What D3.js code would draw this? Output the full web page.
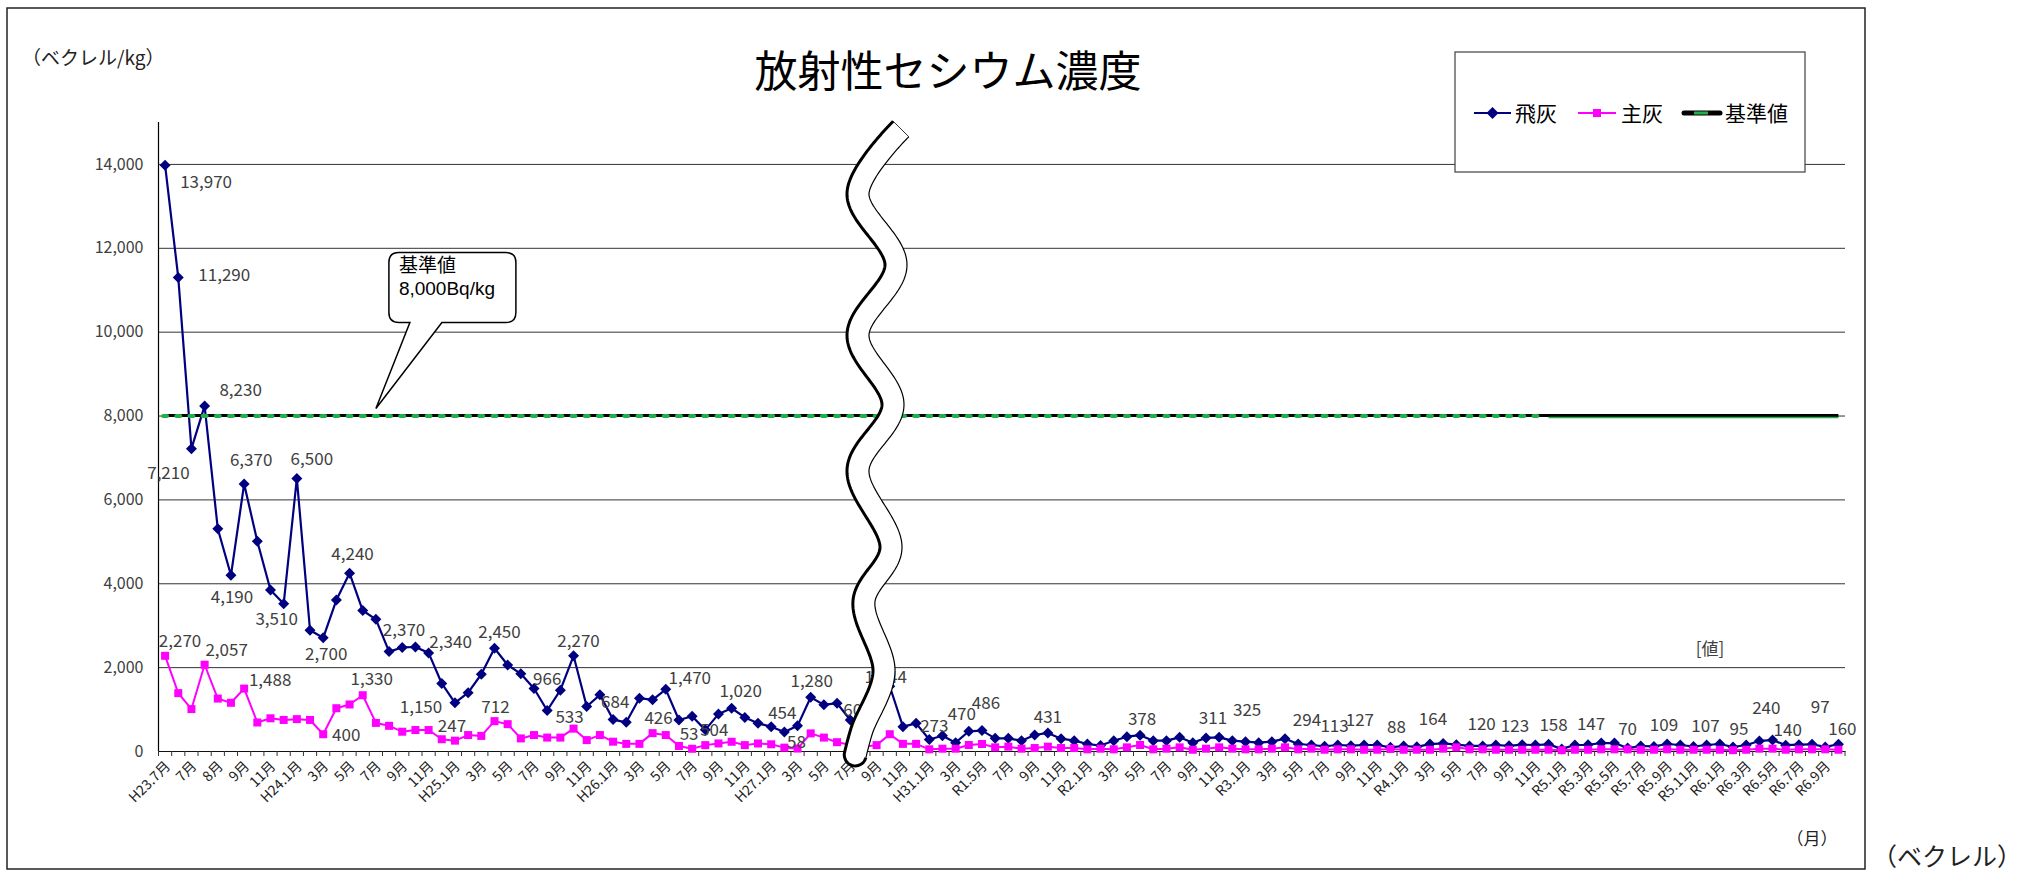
<!DOCTYPE html>
<html><head><meta charset="utf-8">
<script src="https://cdn.jsdelivr.net/npm/d3@7"></script>
<style>
html,body{margin:0;padding:0;background:#fff;}
svg{display:block;}
</style></head><body>
<svg id="chart" width="2024" height="873"></svg>
<script>
// ---------------- data ----------------
const categories = [
 "H23.7月","7月","7月","7月","8月","8月","9月","10月","11月","12月",
 "H24.1月","2月","3月","4月","5月","6月","7月","8月","9月","10月","11月","12月",
 "H25.1月","2月","3月","4月","5月","6月","7月","8月","9月","10月","11月","12月",
 "H26.1月","2月","3月","4月","5月","6月","7月","8月","9月","10月","11月","12月",
 "H27.1月","2月","3月","4月","5月","6月","7月","8月",
 "9月","10月","11月","12月",
 "H31.1月","2月","3月","4月","R1.5月","6月","7月","8月","9月","10月","11月","12月",
 "R2.1月","2月","3月","4月","5月","6月","7月","8月","9月","10月","11月","12月",
 "R3.1月","2月","3月","4月","5月","6月","7月","8月","9月","10月","11月","12月",
 "R4.1月","2月","3月","4月","5月","6月","7月","8月","9月","10月","11月","12月",
 "R5.1月","R5.2月","R5.3月","R5.4月","R5.5月","R5.6月","R5.7月","R5.8月","R5.9月","R5.10月","R5.11月","R5.12月",
 "R6.1月","R6.2月","R6.3月","R6.4月","R6.5月","R6.6月","R6.7月","R6.8月","R6.9月","R6.10月"
];
// 飛灰 (fly ash)
const flyAsh = [
 13970,11290,7210,8230,5300,4190,6370,5000,3840,3510,
 6500,2880,2700,3600,4240,3350,3140,2370,2470,2480,
 2340,1610,1150,1390,1830,2450,2050,1840,1490,966,
 1450,2270,1060,1340,750,684,1260,1220,1470,740,
 830,504,880,1020,800,660,580,454,600,1280,
 1100,1140,740,605,900,1544,580,660,273,365,
 198,470,486,302,302,246,381,431,294,246,
 167,130,246,341,378,246,246,326,199,311,
 325,246,222,199,222,294,167,143,113,143,
 127,143,143,88,119,100,164,180,150,120,
 120,143,123,150,143,158,50,143,147,190,
 190,70,119,109,167,143,107,143,167,95,
 143,240,260,140,150,160,97,160
];
// 主灰 (bottom ash)
const mainAsh = [
 2270,1380,1000,2057,1250,1150,1488,680,780,740,
 760,740,400,1020,1110,1330,670,600,460,500,
 500,280,247,380,360,712,640,300,380,320,
 320,533,260,380,222,170,170,426,380,120,
 53,140,180,220,140,180,160,80,58,420,
 320,210,150,100,140,400,170,170,40,55,
 55,143,167,87,103,55,71,103,71,71,
 40,55,40,87,143,40,55,87,30,55,
 87,55,40,40,55,87,40,55,30,40,
 40,30,30,48,30,30,30,55,87,40,
 40,30,30,30,30,30,20,30,30,40,
 40,40,30,30,40,30,30,30,30,20,
 30,55,55,30,40,40,40,30
];
const standardValue = 8000;           // 基準値
const yTicks = [0,2000,4000,6000,8000,10000,12000,14000];
const seriesNames = ["飛灰","主灰","基準値"];
// labelled points: [index, dx, dy]  (placement of the data labels)
const flyLabelLayout = [
 [0,41,17],[1,46,-3],[2,-23,24],[3,36,-16],[5,1,22],[6,7,-24],[9,-7,15],[10,15,-19],
 [12,3,16],[14,3,-19],[17,15,-22],[20,22,-11],[22,-34,4],[25,5,-16],[29,0,-31],[31,5,-15],
 [35,-11,-20],[38,24,-11],[41,9,0],[43,9,-17],[47,-2,-19],[49,1,-16],[53,-6,-16],[55,-4,-9],
 [58,5,-14],[61,-7,-17],[62,4,-28],[67,0,-16],[74,2,-16],[79,7,-20],[80,28,-27],[85,22,-19],
 [88,10,-20],[90,9,-26],[93,6,-20],[96,3,-25],[100,-1,-22],[102,6,-20],[105,5,-19],[108,3,-21],
 [111,0,-19],[113,10,-21],[116,12,-20],[119,6,-18],[121,7,-33],[123,2,-15],[126,-5,-40],[127,4,-15]
];
const mainLabelLayout = [
 [0,15,-15],[3,22,-15],[6,26,-9],[12,23,1],[15,9,-16],[22,-3,-15],[25,1,-14],[31,-4,-12],
 [37,6,-15],[40,-3,-15],[48,-1,-7]
];

// ---------------- layout ----------------
const FONT = '"Noto Sans CJK JP","Noto Sans",sans-serif';
const svg = d3.select("#chart").attr("font-family", FONT);
const plot = {left:158.5, right:1845, top:122, bottom:751};
const x = d3.scaleBand().domain(d3.range(categories.length)).range([plot.left, plot.right]);
const cx = i => x(i) + x.bandwidth()/2;
const y = d3.scaleLinear().domain([0,15000]).range([plot.bottom, plot.top]);
const fmt = d3.format(",");

svg.append("rect").attr("width",2024).attr("height",873).attr("fill","#fff");
// outer frame
svg.append("rect").attr("x",7).attr("y",8).attr("width",1858).attr("height",861)
  .attr("fill","none").attr("stroke","#222").attr("stroke-width",1.5);

// gridlines + y labels
const gy = svg.append("g").attr("transform",`translate(${plot.left},0)`)
  .call(d3.axisLeft(y).tickValues(yTicks).tickFormat(fmt)
        .tickSize(-(plot.right-plot.left)).tickPadding(15));
gy.attr("font-family",FONT).attr("font-size",16);
gy.select(".domain").remove();
gy.selectAll(".tick line").attr("stroke","#333").attr("stroke-width",1);
gy.selectAll(".tick").filter(d=>d===0).select("line").remove();
gy.selectAll(".tick text").attr("fill","#404040");

// y axis line
svg.append("line").attr("x1",plot.left).attr("x2",plot.left).attr("y1",plot.top).attr("y2",plot.bottom)
  .attr("stroke","#000").attr("stroke-width",1.2);

// x axis
const gx = svg.append("g").attr("transform",`translate(0,${plot.bottom})`)
  .call(d3.axisBottom(x).tickSize(0).tickSizeOuter(0).tickFormat(i => i%2===0 ? categories[i] : ""));
gx.attr("font-family",FONT).attr("font-size",14);
gx.select(".domain").attr("stroke","#111").attr("stroke-width",1.2);
gx.selectAll(".tick text").attr("x",0).attr("y",0).attr("dy",0)
  .attr("text-anchor","end").attr("fill","#222")
  .attr("transform","translate(6,16) rotate(-45)");
svg.append("g").selectAll("line").data(d3.range(categories.length+1)).join("line")
  .attr("x1",k=>plot.left+k*x.step()).attr("x2",k=>plot.left+k*x.step())
  .attr("y1",plot.bottom).attr("y2",plot.bottom+5).attr("stroke","#333").attr("stroke-width",1);

// series lines
const line = d3.line().x((d,i)=>cx(i)).y(d=>y(d));
svg.append("path").datum(flyAsh).attr("d",line).attr("fill","none")
  .attr("stroke","#000080").attr("stroke-width",2.2).attr("stroke-linejoin","round");
const diamond = r => `M0,${-r}L${r},0L0,${r}L${-r},0Z`;
svg.append("g").selectAll("path").data(flyAsh).join("path")
  .attr("d",diamond(5.5)).attr("transform",(d,i)=>`translate(${cx(i)},${y(d)})`).attr("fill","#000080");

svg.append("path").datum(mainAsh).attr("d",line).attr("fill","none")
  .attr("stroke","#FF00FF").attr("stroke-width",2).attr("stroke-linejoin","round");
svg.append("g").selectAll("rect").data(mainAsh).join("rect")
  .attr("x",(d,i)=>cx(i)-4).attr("y",d=>y(d)-4).attr("width",8).attr("height",8).attr("fill","#FF00FF");

// standard line 8000
svg.append("line").attr("x1",cx(0)).attr("x2",cx(categories.length-1))
  .attr("y1",y(standardValue)).attr("y2",y(standardValue)).attr("stroke","#000").attr("stroke-width",3);
svg.append("line").attr("x1",cx(105)).attr("x2",cx(categories.length-1))
  .attr("y1",y(standardValue)+2).attr("y2",y(standardValue)+2).attr("stroke","#22b04c").attr("stroke-width",1.5);
svg.append("g").selectAll("rect").data(categories.slice(0,105)).join("rect")
  .attr("x",(d,i)=>cx(i)-4).attr("y",y(standardValue)-1.5).attr("width",8).attr("height",4)
  .attr("rx",2).attr("fill","#22b04c");

// data labels
const lblG = svg.append("g").attr("font-size",17).attr("fill","#404040").attr("text-anchor","middle");
flyLabelLayout.forEach(([i,dx,dy])=>{
  lblG.append("text").attr("x",cx(i)+dx).attr("y",y(flyAsh[i])+dy).attr("dy","0.35em").text(fmt(flyAsh[i]));
});
mainLabelLayout.forEach(([i,dx,dy])=>{
  lblG.append("text").attr("x",cx(i)+dx).attr("y",y(mainAsh[i])+dy).attr("dy","0.35em").text(fmt(mainAsh[i]));
});

// break mark (wave)
const waveCenter = [[901,129],[858,193],[896,265],[858,335],[893,405],[858,470],[891,548],[864,601],[884,672],[862,730],[855,756]];
(function drawWave(){
  const tmp = svg.append("path").attr("d", d3.line().curve(d3.curveCatmullRom)(waveCenter)).attr("fill","none");
  const node = tmp.node(), L = node.getTotalLength(), w = 11;
  const left=[], right=[];
  for(let s=0;s<=L;s+=2){
    const p=node.getPointAtLength(s), a=node.getPointAtLength(Math.max(0,s-1)), b=node.getPointAtLength(Math.min(L,s+1));
    let tx=b.x-a.x, ty=b.y-a.y; const n=Math.hypot(tx,ty)||1; tx/=n; ty/=n;
    left.push([p.x - ty*w, p.y + tx*w]); right.push([p.x + ty*w, p.y - tx*w]);
  }
  tmp.remove();
  const poly = "M"+left.map(p=>p.join(",")).join("L")+
     `A${w},${w} 0 0 0 ${right[right.length-1].join(",")}`+
     "L"+right.slice().reverse().map(p=>p.join(",")).join("L")+"Z";
  svg.append("path").attr("d",poly).attr("fill","#fff").attr("stroke","none");
  svg.append("path").attr("d","M"+left.map(p=>p.join(",")).join("L")+`A${w},${w} 0 0 0 ${right[right.length-1].join(",")}`)
    .attr("fill","none").attr("stroke","#000").attr("stroke-width",3);
  svg.append("path").attr("d","M"+right.map(p=>p.join(",")).join("L"))
    .attr("fill","none").attr("stroke","#000").attr("stroke-width",1.2);
  svg.append("line").attr("x1",left[0][0]).attr("y1",left[0][1]).attr("x2",right[0][0]).attr("y2",right[0][1])
    .attr("stroke","#000").attr("stroke-width",0.8);
})();

// callout
(function(){
  const tx = cx(16), ty = y(standardValue)-7;
  const bx = tx+13, by = ty-156, bw = 127, bh = 70, r = 10;
  const p = `M${bx+r},${by}H${bx+bw-r}Q${bx+bw},${by} ${bx+bw},${by+r}V${by+bh-r}Q${bx+bw},${by+bh} ${bx+bw-r},${by+bh}`+
            `H${tx+66}L${tx},${ty}L${tx+34},${by+bh}H${bx+r}Q${bx},${by+bh} ${bx},${by+bh-r}V${by+r}Q${bx},${by} ${bx+r},${by}Z`;
  svg.append("path").attr("d",p).attr("fill","#fff").attr("stroke","#000").attr("stroke-width",1.5);
  svg.append("text").attr("x",bx+10).attr("y",by+19).attr("font-size",19).attr("fill","#000").text("基準値");
  svg.append("text").attr("x",bx+10).attr("y",by+42).attr("font-size",19).attr("fill","#000")
    .attr("font-family",'"Liberation Sans",Arial,sans-serif').text("8,000Bq/kg");
})();

// title & misc text
svg.append("text").attr("x",948).attr("y",87).attr("text-anchor","middle").attr("font-size",43)
  .attr("fill","#000").text("放射性セシウム濃度");
svg.append("text").attr("x",22).attr("y",65).attr("font-size",19).attr("fill","#222")
  .text("（ベクレル/kg）");
svg.append("text").attr("x",1710).attr("y",655).attr("text-anchor","middle").attr("font-size",17).attr("fill","#404040").text("[値]");
svg.append("text").attr("x",1812).attr("y",845).attr("text-anchor","middle").attr("font-size",17).attr("fill","#222").text("（月）");
svg.append("text").attr("x",1872).attr("y",866).attr("font-size",25).attr("fill","#222").text("（ベクレル）");

// legend
(function(){
  const g = svg.append("g");
  g.append("rect").attr("x",1455).attr("y",52).attr("width",350).attr("height",120)
    .attr("fill","#fff").attr("stroke","#404040").attr("stroke-width",1.2);
  const ly = 113;
  g.append("line").attr("x1",1474).attr("x2",1511).attr("y1",ly).attr("y2",ly).attr("stroke","#000080").attr("stroke-width",2);
  g.append("path").attr("d",diamond(6)).attr("transform",`translate(1492.5,${ly})`).attr("fill","#000080");
  g.append("line").attr("x1",1578).attr("x2",1616).attr("y1",ly).attr("y2",ly).attr("stroke","#FF00FF").attr("stroke-width",2);
  g.append("rect").attr("x",1593).attr("y",ly-4).attr("width",8).attr("height",8).attr("fill","#FF00FF");
  g.append("line").attr("x1",1684).attr("x2",1720).attr("y1",ly).attr("y2",ly).attr("stroke","#000").attr("stroke-width",5).attr("stroke-linecap","round");
  g.append("rect").attr("x",1694).attr("y",ly-1.5).attr("width",14).attr("height",3).attr("fill","#22b04c");
  const t = g.append("g").attr("font-size",21).attr("fill","#000");
  t.append("text").attr("x",1515).attr("y",ly+8).text(seriesNames[0]);
  t.append("text").attr("x",1621).attr("y",ly+8).text(seriesNames[1]);
  t.append("text").attr("x",1725).attr("y",ly+8).text(seriesNames[2]);
})();
</script>
</body></html>
